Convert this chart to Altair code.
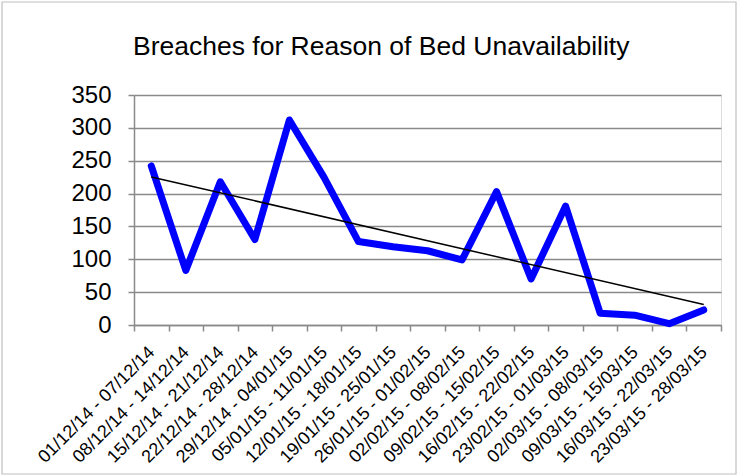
import altair as alt
import pandas as pd

weeks = [
    "01/12/14 - 07/12/14", "08/12/14 - 14/12/14", "15/12/14 - 21/12/14",
    "22/12/14 - 28/12/14", "29/12/14 - 04/01/15", "05/01/15 - 11/01/15",
    "12/01/15 - 18/01/15", "19/01/15 - 25/01/15", "26/01/15 - 01/02/15",
    "02/02/15 - 08/02/15", "09/02/15 - 15/02/15", "16/02/15 - 22/02/15",
    "23/02/15 - 01/03/15", "02/03/15 - 08/03/15", "09/03/15 - 15/03/15",
    "16/03/15 - 22/03/15", "23/03/15 - 28/03/15",
]
breaches = [242, 83, 218, 130, 312, 225, 127, 119, 113, 99, 203, 70, 181, 18, 15, 2, 23]
y_ticks = [0, 50, 100, 150, 200, 250, 300, 350]
title_text = "Breaches for Reason of Bed Unavailability"

df = pd.DataFrame({"idx": list(range(len(weeks))), "week": weeks, "value": breaches})

label_expr = "[" + ",".join("'" + w + "'" for w in weeks) + "][datum.value]"

W, H = 587, 230
FONT = "Liberation Sans"
GRAY = "#8a8a8a"

x_enc = alt.X(
    "idx:O",
    bandPosition=0.5,
    scale=alt.Scale(type="band", paddingInner=0, paddingOuter=0),
    axis=alt.Axis(
        title=None, labelExpr=label_expr, labelAngle=-45, labelFontSize=18,
        labelFont=FONT, labelColor="black", tickBand="extent", tickSize=6,
        tickColor=GRAY, tickWidth=1.5, domainColor=GRAY, domainWidth=1.5,
        grid=False, labelPadding=12, labelOffset=-6, labelOverlap=False,
    ),
)
y_enc = alt.Y(
    "value:Q",
    scale=alt.Scale(domain=[0, 350], nice=False),
    axis=alt.Axis(
        title=None, values=y_ticks, labelFontSize=24, labelFont=FONT,
        labelColor="black", tickSize=6, tickColor=GRAY, tickWidth=1.5,
        domainColor=GRAY, domainWidth=1.5, gridColor=GRAY,
        gridWidth=1.5, labelPadding=17, labelOverlap=False,
    ),
)

base = alt.Chart(df)

line = base.mark_line(color="#0000FF", strokeWidth=7, strokeJoin="round", strokeCap="round").encode(
    x=x_enc, y=y_enc
)
trend = base.transform_regression("idx", "value").mark_line(color="black", strokeWidth=1.5).encode(
    x=x_enc, y=y_enc
)

single = alt.Data(values=[{}])
frame = alt.Chart(single).mark_rect(
    fill=None, stroke="#c0c0c0", strokeWidth=1.2, clip=False
).encode(
    x=alt.value(-132), x2=alt.value(W + 15), y=alt.value(-93), y2=alt.value(H + 149)
)
title = alt.Chart(single).mark_text(
    text=title_text, font=FONT, fontSize=26.5, color="black", align="left",
    baseline="alphabetic", clip=False,
).encode(x=alt.value(-1), y=alt.value(-40))

chart = alt.layer(line, trend, frame, title).properties(
    width=W, height=H,
    autosize=alt.AutoSizeParams(type="none"),
    padding={"left": 134, "top": 95, "right": 18, "bottom": 151},
).configure_view(stroke=None).configure(background="white")

chart.save("out.html", embed_options={"renderer": "svg", "actions": False})
